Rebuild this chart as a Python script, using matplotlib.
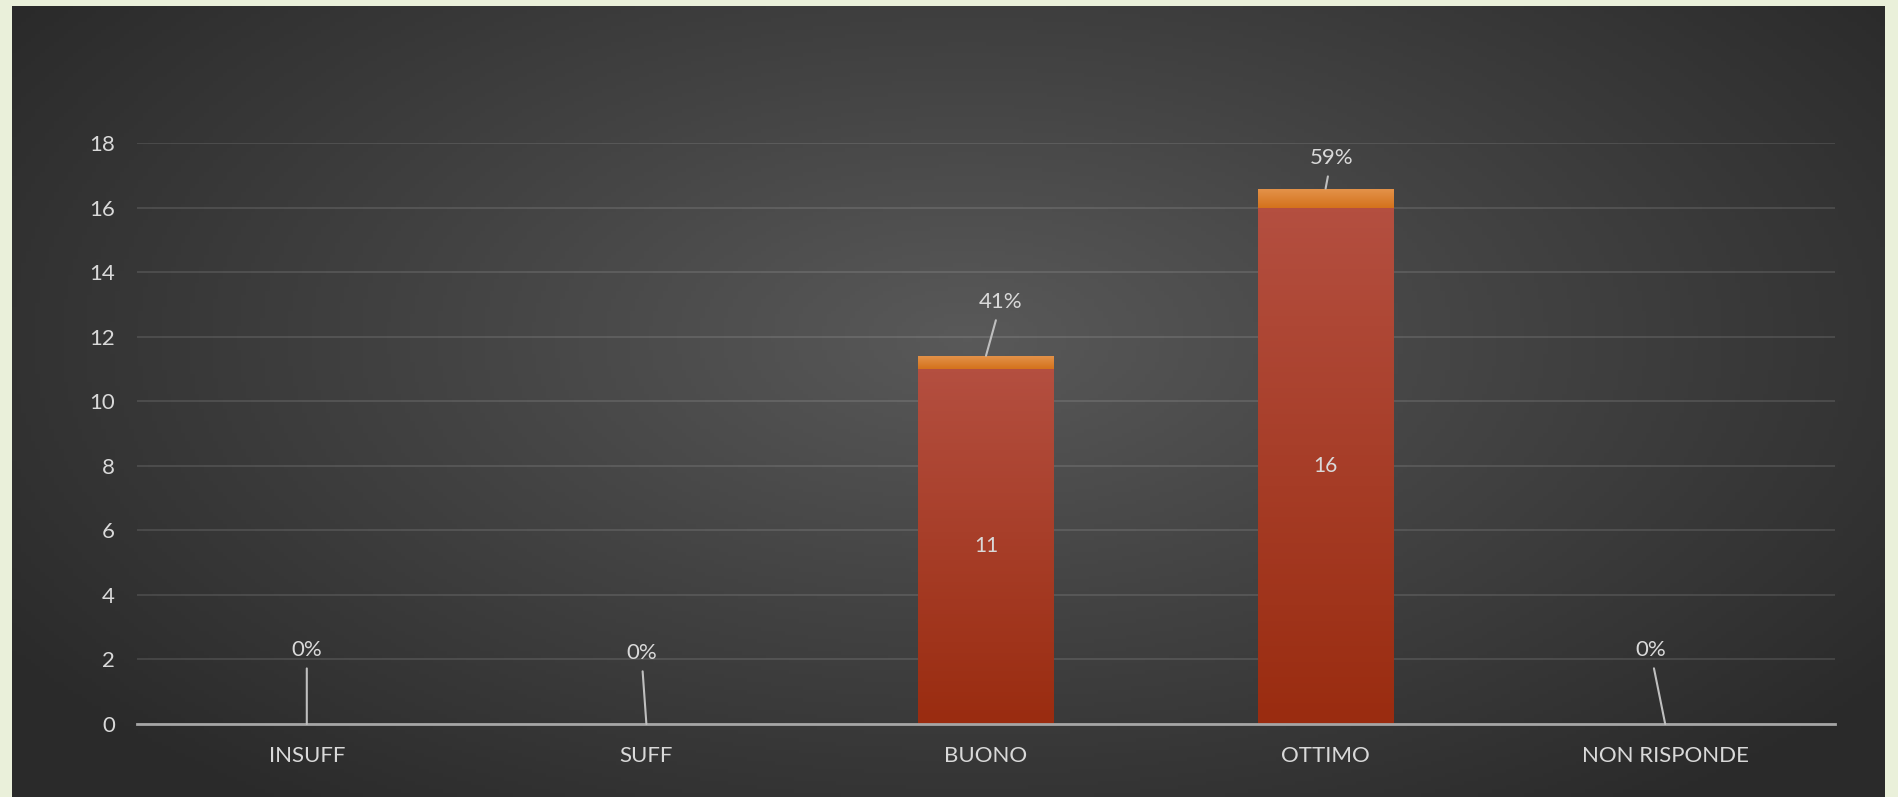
# Grafico a barre in pila: giudizi e percentuali
import matplotlib.pyplot as plt
import numpy as np
from matplotlib.colors import LinearSegmentedColormap

categorie = ['INSUFF', 'SUFF', 'BUONO', 'OTTIMO', 'NON RISPONDE']
conteggi = [0, 0, 11, 16, 0]
percentuali = [0.0, 0.0, 0.41, 0.59, 0.0]
etichette_perc = ['0%', '0%', '41%', '59%', '0%']
yticks = [0, 2, 4, 6, 8, 10, 12, 14, 16, 18]

# posizioni delle etichette percentuali (spostamento x, altezza y)
etich_dx = [0.0, -0.015, 0.044, 0.017, -0.044]
etich_y = [2.29, 2.2, 13.07, 17.53, 2.29]

plt.rcParams['font.family'] = ['Lato', 'DejaVu Sans']
testo = '#d9d9d9'

fig = plt.figure(figsize=(18.99, 7.97), dpi=100)
fig.patch.set_facecolor('#eaf0da')

# Sfondo scuro con gradiente radiale
bg = fig.add_axes([12 / 1899, 0, (1885 - 12) / 1899, (797 - 6) / 797])
bg.set_axis_off()
gx, gy = np.meshgrid(np.linspace(0, 1, 400), np.linspace(0, 1, 200))
r = np.sqrt(((gx - 0.51) / 0.62) ** 2 + ((gy - 0.42) / 0.75) ** 2)
r = np.clip(r, 0, 1)
cmap_bg = LinearSegmentedColormap.from_list('bg', ['#595959', '#414141', '#2a2a2a'])
bg.imshow(r, cmap=cmap_bg, aspect='auto', extent=(0, 1, 1, 0), vmin=0, vmax=1)

ax = fig.add_axes([137 / 1899, 73 / 797, (1835 - 137) / 1899, (654 - 73) / 797])
ax.patch.set_alpha(0)
x = np.arange(len(categorie))
larghezza = 0.4

ax.set_xlim(-0.5, len(categorie) - 0.5)
ax.set_ylim(0, 18)

barre1 = ax.bar(x, conteggi, larghezza, color='#a83d2a', zorder=3)
barre2 = ax.bar(x, percentuali, larghezza, bottom=conteggi, color='#dc8234', zorder=3)

# Gradienti sulle barre
cmap_rosso = LinearSegmentedColormap.from_list('rosso', ['#9a2c10', '#b44f40'])
cmap_aranc = LinearSegmentedColormap.from_list('aranc', ['#d4721c', '#e4944c'])
grad = np.linspace(0, 1, 100).reshape(-1, 1)
for barre, cm in [(barre1, cmap_rosso), (barre2, cmap_aranc)]:
    for b in barre:
        if b.get_height() <= 0:
            continue
        x0, y0 = b.get_x(), b.get_y()
        im = ax.imshow(grad, cmap=cm, aspect='auto', origin='lower',
                       extent=(x0, x0 + b.get_width(), y0, y0 + b.get_height()), zorder=4)
        im.set_clip_path(b)

# Etichette dei valori dentro le barre
for i, v in enumerate(conteggi):
    if v > 0:
        ax.text(i, v / 2, str(v), ha='center', va='center', color=testo, fontsize=15, zorder=5)

# Etichette percentuali con linee guida
for i in range(len(categorie)):
    ax.annotate(etichette_perc[i], xy=(i, conteggi[i] + percentuali[i]),
                xytext=(i + etich_dx[i], etich_y[i]), ha='center', va='center',
                color=testo, fontsize=16, zorder=6,
                arrowprops=dict(arrowstyle='-', color='#bfbfbf', lw=1.5,
                                shrinkA=4, shrinkB=0))

ax.set_yticks(yticks)
ax.set_xticks(x)
ax.set_xticklabels(categorie)
ax.grid(axis='y', color='white', alpha=0.13, lw=1.2, zorder=1)
ax.tick_params(length=0, colors=testo, labelsize=16)
ax.tick_params(axis='y', pad=16)
ax.tick_params(axis='x', pad=16)
for s in ['top', 'right', 'left']:
    ax.spines[s].set_visible(False)
ax.spines['bottom'].set_color('#a6a6a6')
ax.spines['bottom'].set_linewidth(2)
ax.spines['bottom'].set_zorder(5)

plt.savefig('out.png', dpi=100, facecolor=fig.get_facecolor())
